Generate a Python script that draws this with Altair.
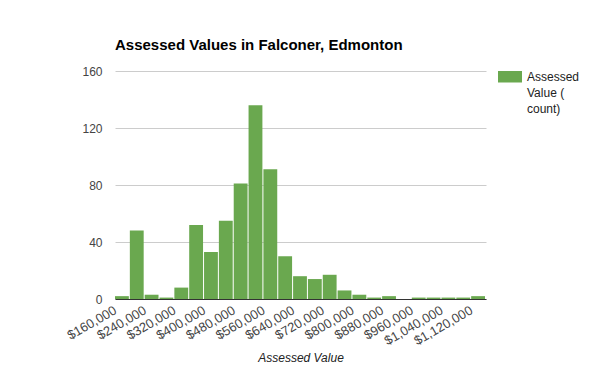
import altair as alt
import pandas as pd

# Histogram bins ($40,000 wide) and counts
bin_starts = [160000 + 40000 * i for i in range(25)]
counts = [2, 48, 3, 1, 8, 52, 33, 55, 81, 136, 91, 30, 16, 14, 17, 6, 3, 1, 2, 0, 1, 1, 1, 1, 2]
x_ticks = [160000, 240000, 320000, 400000, 480000, 560000, 640000, 720000,
           800000, 880000, 960000, 1040000, 1120000]
y_ticks = [0, 40, 80, 120, 160]

df = pd.DataFrame({
    "start": bin_starts,
    "end": [s + 40000 for s in bin_starts],
    "count": counts,
})

FONT = "Liberation Sans"
GREEN = "#6aa84f"

bars = alt.Chart(df).mark_rect(color=GREEN, x2Offset=-1).encode(
    x=alt.X("start:Q",
            scale=alt.Scale(domain=[160000, 1160000], nice=False, zero=False),
            axis=alt.Axis(values=x_ticks, format="$,.0f", labelAngle=-30,
                          labelAlign="right", labelBaseline="middle",
                          labelPadding=10, ticks=False, grid=False,
                          domain=True, domainColor="#333333", domainWidth=1,
                          labelFont=FONT, labelFontSize=13, labelColor="#444444",
                          labelOverlap=False, labelFlush=False,
                          title="Assessed Value", titleFont=FONT,
                          titleFontSize=12, titleFontStyle="italic",
                          titleFontWeight="normal", titleColor="#222222",
                          titleBaseline="middle", titleY=58)),
    x2="end:Q",
    y=alt.Y("count:Q",
            scale=alt.Scale(domain=[0, 160], nice=False),
            axis=alt.Axis(values=y_ticks, ticks=False, domain=False,
                          grid=True, gridColor="#cccccc", labelPadding=13,
                          labelFont=FONT, labelFontSize=12, labelColor="#444444",
                          title=None)),
)

legend_rect = alt.Chart(pd.DataFrame({"a": [0]})).mark_rect(color=GREEN).encode(
    x=alt.value(383), x2=alt.value(407), y=alt.value(0), y2=alt.value(11.5)
)
legend_text = alt.Chart(pd.DataFrame({"t": ["Assessed\nValue (\ncount)"]})).mark_text(
    align="left", baseline="alphabetic", font=FONT, fontSize=12,
    color="#222222", lineBreak="\n", lineHeight=16
).encode(x=alt.value(412), y=alt.value(9.7), text="t:N")

chart = alt.layer(bars, legend_rect, legend_text).properties(
    width=371, height=228,
    title=alt.TitleParams("Assessed Values in Falconer, Edmonton", anchor="start",
                          font=FONT, fontSize=15, fontWeight="bold",
                          color="#000000", offset=12, frame="group"),
    autosize=alt.AutoSizeParams(type="none"),
    padding={"left": 107, "top": 63, "right": 106, "bottom": 64},
).configure_view(stroke=None)

chart.save("out.html", embed_options={"renderer": "svg", "actions": False})
